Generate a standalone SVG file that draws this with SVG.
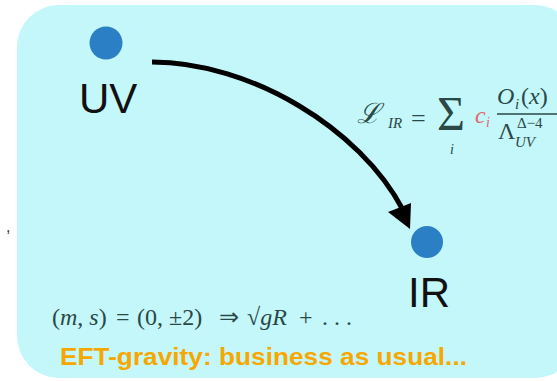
<svg xmlns="http://www.w3.org/2000/svg" width="557" height="381" viewBox="0 0 557 381">
<defs>
<style>
.lbl{font-family:"Liberation Sans",Arial,sans-serif;font-size:42px;fill:#111}
.m{font-family:"Liberation Serif","Times New Roman",serif;fill:#2a4846}
.mi{font-family:"Liberation Serif","Times New Roman",serif;font-style:italic;fill:#2a4846}
.it{font-style:italic}
.dot{fill:#2b80c5}
</style>
</defs>
<rect width="557" height="381" fill="#fff"/>
<rect x="17" y="5" width="560" height="373" rx="42" fill="#c3f7fa"/>
<text x="6" y="232" style="font-family:'Liberation Sans',sans-serif;font-size:16px;fill:#333">,</text>
<g id="connectors">
<path d="M152,62 C250,62 360,128 403,210" fill="none" stroke="#000" stroke-width="5"/>
<path d="M388,212 L411,203 L410,229 z" fill="#000"/>
</g>
<g id="uv">
<circle class="dot" cx="106" cy="43" r="16.5"/>
<text class="lbl" x="79" y="113">UV</text>
</g>
<g id="ir">
<circle class="dot" cx="427" cy="242" r="16"/>
<text class="lbl" x="408" y="307">IR</text>
</g>
<g id="lagrangian">
<text class="mi" x="357" y="123" font-size="28">ℒ</text>
<text class="mi" x="388" y="128" font-size="15">IR</text>
<text class="m" x="411" y="127" font-size="26">=</text>
<text class="m" x="437" y="130" font-size="48">Σ</text>
<text class="mi" x="450" y="154" font-size="14">i</text>
<text class="mi" x="475" y="123" font-size="24" style="fill:#e06a6a">c</text>
<text class="mi" x="486" y="127" font-size="14" style="fill:#e06a6a">i</text>
<text class="mi" x="497" y="104" font-size="24">O</text>
<text class="mi" x="515" y="109" font-size="15">i</text>
<text class="m" x="521" y="104" font-size="24">(<tspan class="it">x</tspan>)</text>
<line x1="497" y1="114" x2="557" y2="114" stroke="#2a4846" stroke-width="1.5"/>
<text class="m" x="498" y="139" font-size="24">Λ</text>
<text class="mi" x="515" y="147" font-size="15">UV</text>
<text class="m" x="517" y="128" font-size="15">Δ−4</text>
</g>
<g id="spin">
<text class="m" y="325" font-size="24"><tspan x="52">(<tspan class="it">m</tspan>, <tspan class="it">s</tspan>)</tspan><tspan x="116">=</tspan><tspan x="137">(0, ±2)</tspan><tspan x="219">⇒</tspan><tspan x="247">√<tspan class="it">gR</tspan></tspan><tspan x="299">+</tspan><tspan x="322">.  .  .</tspan></text>
</g>
<text x="60" y="365" textLength="407" lengthAdjust="spacingAndGlyphs" style="font-family:'Liberation Sans',Arial,sans-serif;font-size:24px;font-weight:bold;fill:#f7a800">EFT-gravity: business as usual...</text>
</svg>
